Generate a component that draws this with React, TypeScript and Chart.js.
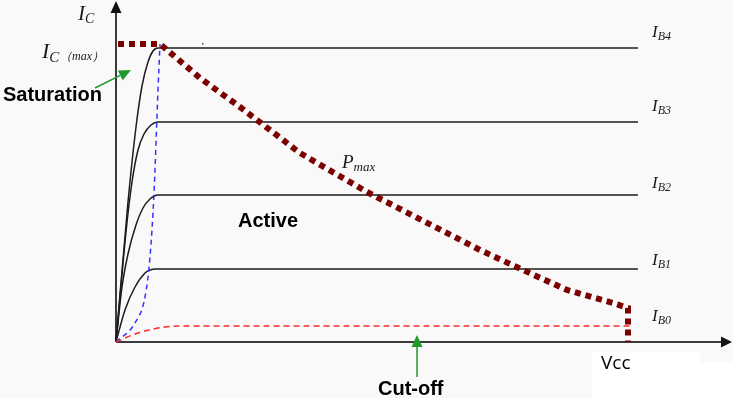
import React, { useEffect, useRef } from "react";
import { Chart, registerables } from "chart.js";
Chart.register(...registerables);

// Data units: x = collector-emitter voltage (arbitrary units), y = collector current (arbitrary units)
const X_MAX = 616;
const Y_MAX = 341;

const ib4X = [0, 12, 20, 26, 32, 37, 42, 522];
const ib4Y = [0, 140, 215, 256, 280, 291, 294, 294];
const ib3X = [0, 10, 16, 22, 28, 35, 42, 522];
const ib3Y = [0, 110, 160, 192, 208, 217, 220, 220];
const ib2X = [0, 6, 12, 20, 27, 34, 42, 522];
const ib2Y = [0, 55, 88, 117, 134, 143, 147, 147];
const ib1X = [0, 9, 19, 29, 34, 40, 522];
const ib1Y = [0, 32, 55, 69, 72, 73, 73];
const ib0X = [0, 22, 49, 69, 516];
const ib0Y = [0, 9, 15, 16, 16];
const satX = [0, 19, 29, 34, 38, 42, 44];
const satY = [0, 19, 45, 85, 149, 252, 298];
const pmaxX = [2, 44, 57, 84, 124, 184, 251, 364, 407, 451, 497, 512, 512];
const pmaxY = [298, 298, 287, 264, 235, 189, 150, 92, 72, 52, 39, 34, 0];

const ibLevels = [294, 220, 147, 73, 16];
const ibSubs = ["B4", "B3", "B2", "B1", "B0"];
const ibLabelLift = [11, 11, 7, 4, 5];

const pts = (xs: number[], ys: number[]) => xs.map((x, i) => ({ x, y: ys[i] }));

function arrow(ctx: CanvasRenderingContext2D, x1: number, y1: number, x2: number, y2: number, color: string) {
  const dx = x2 - x1, dy = y2 - y1;
  const len = Math.hypot(dx, dy);
  const ux = dx / len, uy = dy / len;
  const hl = 12, hw = 5.5;
  const bx = x2 - ux * hl, by = y2 - uy * hl;
  ctx.save();
  ctx.strokeStyle = color;
  ctx.fillStyle = color;
  ctx.lineWidth = 1.5;
  ctx.beginPath();
  ctx.moveTo(x1, y1);
  ctx.lineTo(bx, by);
  ctx.stroke();
  ctx.beginPath();
  ctx.moveTo(x2, y2);
  ctx.lineTo(bx - uy * hw, by + ux * hw);
  ctx.lineTo(bx + uy * hw, by - ux * hw);
  ctx.closePath();
  ctx.fill();
  ctx.restore();
}

function sub(ctx: CanvasRenderingContext2D, main: string, s: string, x: number, y: number, big: number, small: number, drop: number) {
  ctx.font = `italic ${big}px 'Liberation Serif', serif`;
  ctx.fillText(main, x, y);
  const w = ctx.measureText(main).width;
  ctx.font = `italic ${small}px 'Liberation Serif', serif`;
  ctx.fillText(s, x + w, y + drop);
}

const diagramPlugin = {
  id: "diagram",
  beforeDraw(chart: any) {
    const ctx = chart.ctx as CanvasRenderingContext2D;
    ctx.save();
    ctx.fillStyle = "#f9f9f9";
    ctx.fillRect(0, 0, 737, 405);
    ctx.fillStyle = "#ffffff";
    ctx.fillRect(0, 398, 737, 7);
    ctx.fillRect(592, 352, 108, 53);
    ctx.fillRect(700, 362, 37, 43);
    ctx.fillRect(733, 0, 4, 405);
    ctx.restore();
  },
  beforeDatasetsDraw(chart: any) {
    const ctx = chart.ctx as CanvasRenderingContext2D;
    const xs = chart.scales.x, ys = chart.scales.y;
    const ox = xs.getPixelForValue(0), oy = ys.getPixelForValue(0);
    const xe = xs.getPixelForValue(X_MAX), ye = ys.getPixelForValue(Y_MAX);
    ctx.save();
    ctx.strokeStyle = "#3a3a3a";
    ctx.fillStyle = "#111";
    ctx.lineWidth = 2;
    ctx.beginPath();
    ctx.moveTo(ox, oy);
    ctx.lineTo(xe - 10, oy);
    ctx.moveTo(ox, oy);
    ctx.lineTo(ox, ye + 11);
    ctx.stroke();
    ctx.beginPath();
    ctx.moveTo(xe, oy);
    ctx.lineTo(xe - 11, oy - 5.5);
    ctx.lineTo(xe - 11, oy + 5.5);
    ctx.closePath();
    ctx.fill();
    ctx.beginPath();
    ctx.moveTo(ox, ye);
    ctx.lineTo(ox - 5.5, ye + 12);
    ctx.lineTo(ox + 5.5, ye + 12);
    ctx.closePath();
    ctx.fill();
    ctx.restore();
  },
  afterDatasetsDraw(chart: any) {
    const ctx = chart.ctx as CanvasRenderingContext2D;
    const ys = chart.scales.y;
    ctx.save();
    ctx.fillStyle = "#1a1a1a";
    ctx.textBaseline = "alphabetic";
    sub(ctx, "I", "C", 78, 20, 21, 14, 3);
    sub(ctx, "I", "C", 42, 58, 22, 15, 4);
    ctx.font = "italic 12px 'Liberation Serif', serif";
    ctx.fillText("\uFF08max\uFF09", 60, 60);
    ibLevels.forEach((lv, i) => {
      const y = ys.getPixelForValue(lv) - ibLabelLift[i];
      sub(ctx, "I", ibSubs[i], 652, y, 17, 12, 3);
    });
    sub(ctx, "P", "max", 342, 168, 19, 13, 3);
    ctx.fillStyle = "#000";
    ctx.font = "bold 20px 'Liberation Sans', Arial, sans-serif";
    ctx.fillText("Saturation", 3, 101);
    ctx.fillText("Active", 238, 227);
    ctx.fillText("Cut-off", 378, 395);
    ctx.font = "19px 'Open Sans', sans-serif";
    ctx.fillText("Vcc", 601, 369);
    ctx.fillStyle = "#444";
    ctx.fillRect(202, 43, 1.5, 1.5);
    ctx.restore();
    arrow(ctx, 95, 88, 131, 70, "#1f9a2a");
    arrow(ctx, 417, 377, 417, 335, "#1f9a2a");
  },
};

export default function App() {
  const ref = useRef<HTMLCanvasElement>(null);
  useEffect(() => {
    if (!ref.current) return;
    const black = (xs: number[], ys: number[]) => ({
      data: pts(xs, ys),
      borderColor: "#1c1c1c",
      borderWidth: 1.5,
      pointRadius: 0,
      cubicInterpolationMode: "monotone" as const,
      order: 2,
    });
    const chart = new Chart(ref.current, {
      type: "line",
      data: {
        datasets: [
          {
            data: pts(pmaxX, pmaxY),
            borderColor: "#7b0000",
            borderWidth: 6,
            borderDash: [6, 5],
            borderCapStyle: "butt",
            pointRadius: 0,
            tension: 0,
            order: 0,
          },
          black(ib4X, ib4Y),
          black(ib3X, ib3Y),
          black(ib2X, ib2Y),
          black(ib1X, ib1Y),
          {
            data: pts(ib0X, ib0Y),
            borderColor: "#ff2a2a",
            borderWidth: 1.5,
            borderDash: [6, 4],
            pointRadius: 0,
            cubicInterpolationMode: "monotone",
            order: 1,
          },
          {
            data: pts(satX, satY),
            borderColor: "#3333ff",
            borderWidth: 1.5,
            borderDash: [5, 4],
            pointRadius: 0,
            cubicInterpolationMode: "monotone",
            order: 1,
          },
        ],
      },
      options: {
        animation: false,
        responsive: false,
        devicePixelRatio: 1,
        layout: { padding: { left: 116, right: 5, top: 1, bottom: 63 } },
        plugins: { legend: { display: false }, tooltip: { enabled: false } },
        scales: {
          x: { type: "linear", min: 0, max: X_MAX, display: false },
          y: { type: "linear", min: 0, max: Y_MAX, display: false },
        },
        clip: false,
      } as any,
      plugins: [diagramPlugin],
    });
    return () => chart.destroy();
  }, []);
  return (
    <div style={{ position: "fixed", left: 0, top: 0, width: 737, height: 405 }}>
      <canvas ref={ref} width={737} height={405} style={{ display: "block" }} />
    </div>
  );
}
